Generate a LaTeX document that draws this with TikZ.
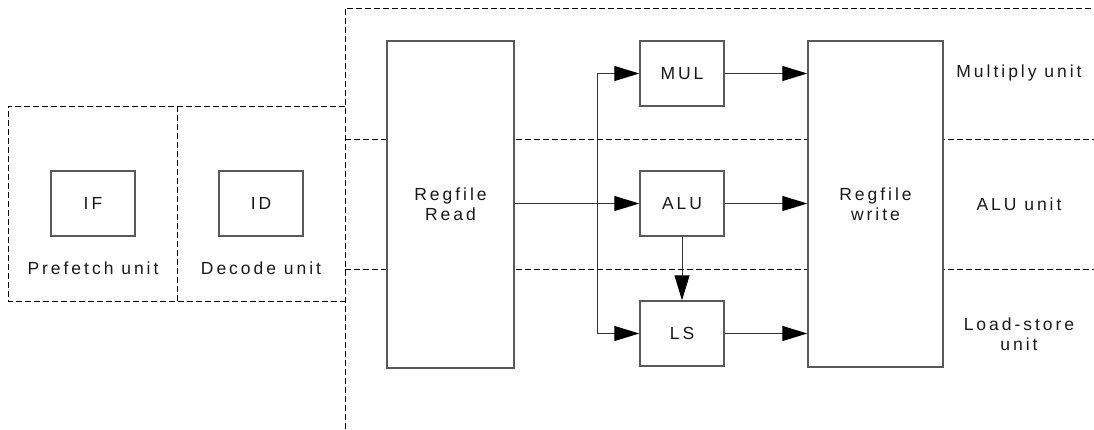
\documentclass[tikz,border=0pt]{standalone}
\usepackage{fontspec}
\setmainfont[LetterSpace=17]{Liberation Sans}
\usetikzlibrary{arrows.meta}
\begin{document}
\begin{tikzpicture}[x=1pt,y=-1pt,
  blk/.style={draw=black!65,line width=1.4pt,fill=white,inner sep=0pt,font=\fontsize{17.5}{20}\selectfont,text=black!90,align=center},
  dsh/.style={draw=black,line width=0.9pt,dash pattern=on 6pt off 3pt},
  lbl/.style={font=\fontsize{17.5}{20}\selectfont,text=black!90,align=center,inner sep=0pt},
  arr/.style={draw=black!80,line width=1pt,-{Triangle[length=25pt,width=15pt,color=black]}}]
\useasboundingbox (0,0) rectangle (1094,429);
% dashed frames
\draw[dsh] (345,106) -- (8,106) -- (8,301) -- (345,301);
\draw[dsh] (177,106) -- (177,301);
\draw[dsh] (345,429) -- (345,8) -- (1094,8);
\draw[dsh] (345,139) -- (1094,139);
\draw[dsh] (345,269) -- (1094,269);
% blocks
\node[blk,minimum width=84pt,minimum height=65pt] (ifbox) at (93,203.5) {IF};
\node[blk,minimum width=84pt,minimum height=65pt] (idbox) at (261,203.5) {ID};
\node[lbl] (pf) at (93,268) {Prefetch unit};
\node[lbl] (dc) at (261,268) {Decode unit};
\node[blk,minimum width=127pt,minimum height=327pt] (rfr) at (450.5,204.5) {Regfile\\Read};
\node[blk,minimum width=84pt,minimum height=65pt] (mul) at (682,73.5) {MUL};
\node[blk,minimum width=84pt,minimum height=65pt] (alu) at (682,203.5) {ALU};
\node[blk,minimum width=84pt,minimum height=65pt] (ls) at (682,333.5) {LS};
\node[blk,minimum width=135pt,minimum height=326pt] (rfw) at (875.5,204) {Regfile\\write};
\node[lbl] (mu) at (1019,73) {Multiply unit};
\node[lbl] (au) at (1019,204) {ALU unit};
\node[lbl] (lu) at (1019,334) {Load-store\\unit};
% connectors
\coordinate (br) at (597,203.5);
\draw[arr] (rfr.east |- alu.west) -- (alu.west);
\draw[arr] (br) |- (mul.west);
\draw[arr] (br) |- (ls.west);
\draw[arr] (alu.south) -- (ls.north);
\draw[arr] (mul.east) -- (rfw.west |- mul.east);
\draw[arr] (alu.east) -- (rfw.west |- alu.east);
\draw[arr] (ls.east) -- (rfw.west |- ls.east);
\end{tikzpicture}
\end{document}
